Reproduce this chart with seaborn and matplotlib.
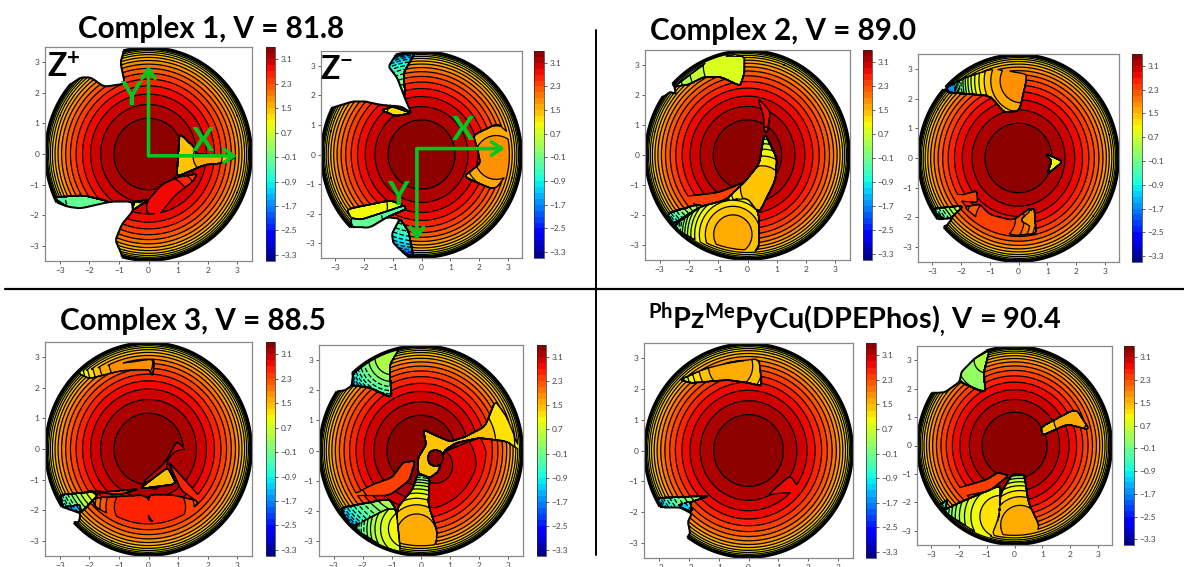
import numpy as np
import seaborn as sns
from matplotlib import pyplot as plt
from matplotlib.path import Path

# heights read from the rings of the undisturbed dome
DOME_RADIUS = [0, 1.17, 1.62, 1.96, 2.23, 2.45, 2.64, 2.80, 2.94, 3.06, 3.16, 3.25, 3.32, 3.38, 3.43, 3.46, 3.49, 3.50]
DOME_HEIGHT = [3.5, 3.3, 3.1, 2.9, 2.7, 2.5, 2.3, 2.1, 1.9, 1.7, 1.5, 1.3, 1.1, 0.9, 0.7, 0.5, 0.3, 0.1]
CBAR_TICKS = [3.1, 2.3, 1.5, 0.7, -0.1, -0.9, -1.7, -2.5, -3.3]
AXIS_TICKS = [-3, -2, -1, 0, 1, 2, 3]

# white = empty outline pieces, dish = (outline, centre x, centre y, drop, steepness)
WHITE_1P = [
    [(-0.85, 3.6), (-0.85, 3.3), (-0.95, 3.0), (-0.8, 2.3), (-1.5, 2.2), (-1.95, 2.5), (-2.3, 2.5), (-2.75, 2.2), (-3.6, 2.2), (-3.6, 3.6)],
    [(-3.3, -1.5), (-2.75, -1.72), (-2.3, -1.78), (-1.3, -1.56), (-0.56, -1.56), (-0.53, -1.84), (-0.6, -1.95), (-0.9, -2.3), (-1.12, -2.82), (-0.9, -3.3), (-0.9, -3.6), (-3.6, -3.6), (-3.6, -1.5)],
]
DISH_1P = [
    ([(-3.25, -1.42), (-2.2, -1.35), (-1.3, -1.56), (-2.3, -1.78), (-2.75, -1.72)], -2.0, -1.3, 3.6, 1.4),
    ([(1.05, 0.68), (1.57, 0.19), (1.6, 0.0), (3.0, -0.08), (2.5, -0.3), (1.9, -0.35), (0.95, -0.75), (1.0, -0.1)], 2.0, -0.1, 1.9, 1.2),
    ([(-0.5, -1.56), (0.0, -1.5), (-0.53, -1.84)], 0, 0, 2.2, 1.0),
    ([(-0.05, -1.55), (0.45, -1.0), (1.0, -0.75), (1.65, -0.65), (1.5, -0.9), (0.9, -1.35), (0.4, -1.95), (-0.05, -1.95)], 0.6, -1.5, 0.61, 1.5),
]

WHITE_1M = [
    [(-0.86, 3.6), (-0.86, 3.42), (-1.15, 2.97), (-0.85, 2.6), (-0.55, 1.84), (-0.35, 1.4), (-0.7, 1.62), (-1.44, 1.68), (-2.0, 1.8), (-2.37, 1.8), (-3.18, 1.56), (-3.6, 1.56), (-3.6, 3.6)],
    [(-2.43, -2.45), (-1.8, -2.47), (-1.2, -2.12), (-0.75, -2.17), (-1.03, -2.68), (-0.98, -3.0), (-0.6, -3.35), (-0.28, -3.6), (-3.6, -3.6), (-3.6, -2.45)],
]
DISH_1M = [
    ([(-1.15, 2.97), (-0.86, 3.42), (-0.22, 3.45), (-0.63, 2.75), (-0.55, 1.84), (-0.85, 2.6)], 0, 0, 2.4, 1.0),
    ([(-1.03, -2.68), (-0.75, -2.17), (-0.45, -2.6), (-0.28, -3.47), (-0.6, -3.35), (-0.98, -3.0)], 0, 0, 2.8, 1.0),
    ([(-2.6, -1.85), (-1.1, -1.55), (-0.6, -1.72), (-1.3, -1.95), (-2.1, -2.2), (-2.45, -2.15)], -2.3, -1.8, 2.41, 1.0),
    ([(-2.45, -2.15), (-2.1, -2.2), (-1.3, -1.95), (-0.6, -1.72), (-0.55, -1.85), (-1.2, -2.12), (-1.8, -2.47), (-2.43, -2.45)], -2.0, -2.3, 3.7, 0.9),
    ([(-1.0, 1.62), (-0.35, 1.4), (-0.9, 1.3), (-1.4, 1.5)], -0.6, 1.4, 2.3, 1.0),
    ([(1.8, 0.65), (2.65, 1.05), (3.05, 0.7), (3.2, -0.4), (2.55, -1.2), (1.46, -0.75), (2.05, -0.3), (1.95, 0.2)], 2.6, -0.1, 1.61, 1.5),
]

WHITE_2P = [
    [(-2.85, 1.95), (-2.65, 2.1), (-2.45, 2.05), (-2.5, 2.3), (-2.7, 2.5), (-3.6, 2.5), (-3.6, 1.95)],
]
DISH_2P = [
    ([(-2.5, 2.28), (-2.0, 2.65), (-1.1, 3.3), (-0.1, 3.3), (-0.1, 2.75), (-0.25, 2.3), (-0.9, 2.6), (-1.5, 2.6), (-2.0, 2.35)], -0.4, 3.0, 2.61, 1.0),
    ([(0.0, -1.45), (0.39, -1.94), (0.39, -3.2), (-0.7, -3.4), (-2.6, -2.4), (-1.6, -1.72), (-0.75, -1.5)], -0.5, -2.65, 1.81, 1.7),
    ([(0.58, 0.75), (1.0, -0.1), (0.96, -0.83), (0.39, -1.94), (0.0, -1.45), (-0.75, -1.5), (-0.1, -0.9), (0.4, -0.3)], 0.5, -1.1, 2.01, 1.5),
    ([(-2.75, -1.95), (-1.2, -1.5), (-0.75, -1.5), (-1.6, -1.72), (-2.55, -2.3)], 0, 0, 2.0, 1.0),
    ([(-2.3, -1.4), (-1.0, -1.25), (-0.1, -0.9), (-0.75, -1.5), (-1.6, -1.72)], -1.2, -1.1, 1.0, 1.0),
    ([(0.35, 1.9), (0.55, 1.3), (0.57, 0.8), (0.68, 0.75), (0.78, 1.45)], 0.5, 1.5, 0.7, 1.0),
    ([(-0.1, 2.75), (0.0, 2.4), (0.35, 1.9), (0.78, 1.45), (0.6, 2.2)], 0.3, 2.1, 0.4, 1.0),
]

WHITE_2M = [
    [(-2.95, 2.3), (-2.58, 2.32), (-2.35, 2.15), (-2.55, 2.4), (-2.9, 2.7), (-3.6, 2.7), (-3.6, 2.3)],
    [(-3.6, -2.1), (-2.6, -2.05), (-2.3, -2.02), (-2.52, -2.3), (-3.6, -2.5)],
]
DISH_2M = [
    ([(-2.55, 2.35), (-1.83, 2.72), (-0.9, 3.0), (0.27, 2.83), (0.27, 2.6), (0.03, 1.59), (-0.49, 1.53), (-1.0, 2.1), (-2.4, 2.2)], 0.1, 2.6, 1.61, 1.5),
    ([(0.95, 0.15), (1.55, -0.12), (1.0, -0.55), (1.15, -0.1)], 1.1, -0.1, 2.4, 1.0),
    ([(-2.7, -1.15), (-2.0, -1.25), (-1.45, -1.1), (-1.42, -1.5), (-2.0, -1.45)], -1.4, -1.2, 1.0, 1.0),
    ([(-2.95, -1.7), (-1.9, -1.6), (-2.35, -2.02), (-2.6, -2.05), (-2.95, -1.8)], 0, 0, 1.6, 1.0),
    ([(-1.9, -1.65), (-1.35, -1.55), (-1.0, -1.9), (-0.2, -2.1), (0.45, -1.65), (0.65, -2.55), (-0.2, -2.6), (-1.1, -2.3)], -0.8, -2.05, 1.01, 1.6),
    ([(0.05, -2.1), (0.55, -1.65), (0.6, -2.4)], 0.4, -2.0, 1.6, 1.0),
]

WHITE_3P = [
    [(-3.0, -1.85), (-2.9, -1.9), (-2.3, -2.1), (-2.35, -2.4), (-2.6, -2.4), (-3.6, -2.4), (-3.6, -1.85)],
]
DISH_3P = [
    ([(-2.4, 2.5), (-1.3, 2.75), (0.2, 2.95), (0.15, 2.4), (0.0, 2.6), (-0.3, 2.6), (-1.0, 2.55), (-2.0, 2.3)], -0.6, 2.85, 1.61, 1.5),
    ([(0.0, -1.5), (0.8, -1.5), (1.7, -1.7), (1.4, -2.1), (0.4, -2.4), (0.0, -2.35)], 0.6, -1.9, 0.81, 1.7),
    ([(0.0, -1.5), (-1.9, -1.6), (-1.8, -1.9), (-1.0, -2.3), (0.0, -2.35)], -0.5, -1.9, 0.81, 1.7),
    ([(-2.3, -1.35), (-1.4, -1.4), (-0.3, -1.3), (-1.0, -1.5)], -1.3, -1.1, 1.0, 1.0),
    ([(0.95, 0.25), (1.25, 0.0), (0.9, -0.9), (0.2, -1.35), (-0.2, -1.1), (0.55, -0.45)], 1.2, -0.6, 0.3, 1.0),
    ([(0.67, -0.43), (0.85, -0.6), (1.5, -1.3), (1.75, -1.6), (1.63, -1.7), (1.1, -1.35)], 1.0, -1.0, 0.8, 1.0),
    ([(0.65, -0.6), (0.95, -1.15), (-0.3, -1.3), (0.1, -1.0)], 0.3, -1.0, 2.0, 1.0),
    ([(-3.0, -1.5), (-1.9, -1.4), (-1.7, -1.5), (-2.3, -2.1), (-2.9, -1.9)], 0, 0, 1.7, 1.0),
    ([(-2.9, -1.9), (-2.3, -1.82), (-2.3, -2.1)], 0, 0, 3.0, 1.0),
]

WHITE_3M = [
    [(-2.95, 1.95), (-2.6, 2.0), (-2.38, 2.15), (-2.33, 2.55), (-2.6, 2.7), (-3.6, 2.7), (-3.6, 1.95)],
]
DISH_3M = [
    ([(-2.33, 2.58), (-1.47, 3.19), (-0.73, 3.4), (-1.07, 2.85), (-1.05, 2.3), (-1.01, 1.75), (-1.8, 2.1), (-2.38, 2.15)], -1.0, 3.1, 3.0, 2.0),
    ([(0.75, -0.05), (2.0, 0.42), (2.95, 0.3), (3.4, -0.1), (3.0, -1.8), (0.55, -2.65), (0.25, -1.8), (0.25, -1.0), (0.5, -0.55)], 0.5, -0.5, 0.3, 1.0),
    ([(0.07, 0.7), (0.5, 0.5), (1.0, 0.3), (1.5, 0.45), (2.2, 0.8), (2.55, 1.65), (2.95, 1.1), (3.4, 0.0), (2.95, 0.3), (2.0, 0.42), (1.2, 0.25), (0.8, 0.0), (0.6, -0.7), (0.3, -0.9), (-0.1, -0.75), (-0.1, -0.24), (0.18, 0.2)], 0.9, 0.2, 2.0, 0.7),
    ([(0.3, -0.9), (0.25, -1.8), (0.55, -2.65), (0.5, -3.4), (-0.7, -3.4), (-0.85, -1.95), (-0.3, -1.3), (-0.1, -0.75)], -0.15, -2.8, 1.81, 1.6),
    ([(-2.38, -2.55), (-1.2, -1.95), (-0.85, -1.95), (-0.7, -3.4), (-1.2, -3.25)], -0.5, -2.6, 2.41, 1.8),
    ([(-2.75, -1.9), (-1.1, -1.6), (-0.85, -1.95), (-1.2, -1.95), (-2.38, -2.55), (-2.65, -2.15)], 0, 0, 2.4, 1.0),
    ([(-0.6, -0.38), (-0.2, -0.35), (-0.4, -1.0), (-1.1, -1.5), (-2.4, -1.5), (-1.6, -1.1), (-1.0, -0.9)], -1.0, -0.7, 1.0, 1.0),
    ([(0.78, -0.25), (0.7, -0.05), (0.5, 0.03), (0.3, -0.05), (0.22, -0.25), (0.3, -0.45), (0.5, -0.53), (0.7, -0.45)], 0.5, -0.25, 0.1, 1.0),
]

WHITE_4P = [
    [(-3.1, -1.7), (-2.95, -1.85), (-2.3, -1.85), (-1.9, -2.05), (-2.03, -2.33), (-1.95, -2.7), (-2.2, -3.0), (-3.6, -3.0), (-3.6, -1.7)],
]
DISH_4P = [
    ([(-2.3, 2.3), (-1.5, 2.65), (-0.7, 2.85), (0.35, 3.0), (0.45, 2.1), (0.0, 2.2), (-0.7, 2.3), (-1.9, 2.2)], -0.6, 2.75, 1.81, 1.5),
    ([(-3.1, -1.55), (-2.0, -1.5), (-1.3, -1.47), (-2.0, -1.7), (-1.9, -2.0), (-2.3, -1.85), (-2.95, -1.85)], 0, 0, 2.2, 1.0),
    ([(-2.4, -1.8), (-1.95, -1.65), (-1.9, -2.0)], 0, 0, 3.3, 1.0),
    ([(0.65, -1.45), (1.4, -0.8), (1.75, -1.35), (0.95, -1.4)], 1.2, -1.2, 0.6, 1.5),
]

WHITE_4M = [
    [(-2.87, 1.85), (-2.5, 1.87), (-1.97, 2.24), (-1.9, 2.6), (-1.45, 3.05), (-0.89, 3.4), (-0.89, 3.6), (-3.6, 3.6), (-3.6, 1.85)],
]
DISH_4M = [
    ([(-1.97, 2.24), (-1.05, 1.85), (-1.1, 2.6), (-0.9, 3.35), (-1.45, 3.05), (-1.9, 2.6)], -1.0, 3.0, 3.1, 1.3),
    ([(0.95, 0.65), (2.2, 1.3), (2.7, 0.55), (1.9, 0.75), (1.0, 0.35)], 2.0, 0.9, 1.9, 1.0),
    ([(0.35, -1.0), (0.5, -2.0), (0.9, -2.85), (0.5, -3.45), (-0.9, -3.35), (-0.55, -2.5), (-0.5, -1.7), (-0.1, -1.02)], 0.2, -2.8, 1.81, 1.6),
    ([(-0.5, -1.4), (-0.55, -2.5), (-0.9, -3.35), (-2.6, -2.3), (-1.95, -2.0), (-1.0, -1.6)], -0.5, -2.5, 2.21, 1.5),
    ([(-2.55, -1.65), (-1.0, -1.2), (-0.6, -0.95), (-0.2, -1.05), (-0.9, -1.6), (-1.95, -1.8)], -1.2, -1.1, 1.0, 1.0),
    ([(-2.7, -2.1), (-2.4, -1.9), (-2.5, -2.25)], 0, 0, 2.0, 1.0),
]

# pixel boxes: left, right, top, bottom of map, then left, right of colour bar
BOX_1P = (45, 252, 47, 261, 266, 275)
BOX_1M = (321, 522, 51, 258, 534, 544)
BOX_2P = (645, 850, 50, 260, 863, 872)
BOX_2M = (918, 1119, 54, 262, 1132, 1142)
BOX_3P = (45, 252, 342, 556, 266, 275)
BOX_3M = (319, 523, 345, 556, 537, 546)
BOX_4P = (644, 853, 343, 558, 866, 876)
BOX_4M = (917, 1112, 346, 545, 1124, 1134)

WIDTH, HEIGHT = 1184, 567
GREEN = "#00c81e"


def add_box(fig, left, right, top, bottom):
    return fig.add_axes([left / WIDTH, 1 - bottom / HEIGHT, (right - left) / WIDTH, (bottom - top) / HEIGHT])


def rounded(outline, passes=2):
    # corner cutting, so the hand-read outlines do not look like straight pieces
    pts = np.asarray(outline, dtype=float)
    for _ in range(passes):
        following = np.roll(pts, -1, axis=0)
        pts = np.column_stack([0.88 * pts + 0.12 * following, 0.12 * pts + 0.88 * following]).reshape(-1, 2)
    return Path(pts)


def build_surface(white, dishes):
    xs = np.linspace(-3.5, 3.5, 561)
    grid_x, grid_y = np.meshgrid(xs, xs)
    points = np.column_stack([grid_x.ravel(), grid_y.ravel()])
    radius = np.hypot(grid_x, grid_y)
    base = np.interp(radius, DOME_RADIUS, DOME_HEIGHT)
    surface = base.copy()
    for outline, cx, cy, drop, steep in dishes:
        inside = rounded(outline).contains_points(points).reshape(grid_x.shape)
        dish = np.interp(np.hypot(grid_x - cx, grid_y - cy) * steep, DOME_RADIUS, DOME_HEIGHT) - drop
        surface[inside] = np.minimum(base, dish)[inside]
    cut = np.zeros_like(radius, dtype=bool)
    for outline in white:
        cut |= rounded(outline).contains_points(points).reshape(grid_x.shape)
    surface[cut | (radius > 3.47)] = np.nan
    return grid_x, grid_y, surface, cut, radius


def draw_map(fig, box, white, dishes, cmap, levels):
    ax = add_box(fig, *box[:4])
    cax = add_box(fig, box[4], box[5], box[2], box[3])
    grid_x, grid_y, surface, cut, radius = build_surface(white, dishes)
    filled = ax.contourf(grid_x, grid_y, surface, levels=levels, cmap=cmap)
    ax.contour(grid_x, grid_y, surface, levels=levels, colors="black", linewidths=0.9)
    cut_edge = np.ma.array(cut.astype(float), mask=radius > 3.49)
    ax.contour(grid_x, grid_y, cut_edge, levels=[0.5], colors="black", linewidths=1.4)
    ax.contour(grid_x, grid_y, np.ma.array(radius, mask=cut), levels=[3.47], colors="black", linewidths=2.6)
    ax.set_xlim(-3.5, 3.5)
    ax.set_ylim(-3.5, 3.5)
    ax.set_xticks(AXIS_TICKS)
    ax.set_yticks(AXIS_TICKS)
    ax.tick_params(labelsize=6, length=2, width=0.6, colors="#444444", pad=2)
    for spine in ax.spines.values():
        spine.set_color("#888888")
        spine.set_linewidth(0.9)
    bar = fig.colorbar(filled, cax=cax, ticks=CBAR_TICKS)
    bar.ax.tick_params(labelsize=6, length=2, width=0.6, colors="#444444", pad=2)
    bar.outline.set_linewidth(0.5)
    return ax


def draw_axes_cross(ax, origin, x_end, y_end, x_label, y_label):
    for end in (x_end, y_end):
        ax.annotate(
            "",
            xy=end,
            xytext=origin,
            arrowprops=dict(arrowstyle="->,head_length=0.6,head_width=0.4", color=GREEN, lw=2.6, shrinkA=0, shrinkB=0),
        )
    ax.text(*x_label, "X", color=GREEN, fontsize=24, fontweight="bold", ha="center", va="center")
    ax.text(*y_label, "Y", color=GREEN, fontsize=24, fontweight="bold", ha="center", va="center")


def main() -> None:
    sns.set_theme(style="ticks")
    plt.rcParams["font.family"] = ["Lato", "DejaVu Sans"]
    plt.rcParams["mathtext.fontset"] = "custom"
    plt.rcParams["mathtext.bf"] = "Lato:bold"
    plt.rcParams["mathtext.rm"] = "Lato:bold"
    plt.rcParams["axes.unicode_minus"] = True
    cmap = plt.get_cmap("jet")
    levels = np.linspace(-3.5, 3.5, 36)

    fig = plt.figure(figsize=(WIDTH / 100, HEIGHT / 100), dpi=100)
    ax_1p = draw_map(fig, BOX_1P, WHITE_1P, DISH_1P, cmap, levels)
    ax_1m = draw_map(fig, BOX_1M, WHITE_1M, DISH_1M, cmap, levels)
    draw_map(fig, BOX_2P, WHITE_2P, DISH_2P, cmap, levels)
    draw_map(fig, BOX_2M, WHITE_2M, DISH_2M, cmap, levels)
    draw_map(fig, BOX_3P, WHITE_3P, DISH_3P, cmap, levels)
    draw_map(fig, BOX_3M, WHITE_3M, DISH_3M, cmap, levels)
    draw_map(fig, BOX_4P, WHITE_4P, DISH_4P, cmap, levels)
    draw_map(fig, BOX_4M, WHITE_4M, DISH_4M, cmap, levels)

    draw_axes_cross(ax_1p, (0, -0.06), (3.0, -0.06), (0, 2.9), (1.85, 0.4), (-0.58, 1.9))
    draw_axes_cross(ax_1m, (-0.16, 0.2), (2.9, 0.2), (-0.16, -2.9), (1.46, 0.82), (-0.8, -1.38))
    ax_1p.text(-2.87, 2.8, "$\\mathbf{Z^{+}}$", fontsize=23, color="black", ha="center", va="center")
    ax_1m.text(-2.95, 2.85, "$\\mathbf{Z^{-}}$", fontsize=23, color="black", ha="center", va="center")

    title_style = dict(fontsize=21.3, fontweight="bold", color="black", va="center", ha="left")
    fig.text(78 / WIDTH, 1 - 29 / HEIGHT, "Complex 1, V = 81.8", **title_style)
    fig.text(650 / WIDTH, 1 - 31 / HEIGHT, "Complex 2, V = 89.0", **title_style)
    fig.text(60 / WIDTH, 1 - 321 / HEIGHT, "Complex 3, V = 88.5", **title_style)
    fig.text(
        648 / WIDTH,
        1 - 320 / HEIGHT,
        "$\\mathbf{^{Ph}Pz^{Me}PyCu(DPEPhos)_{,}}$ V = 90.4",
        fontsize=20.8,
        fontweight="bold",
        color="black",
        va="center",
        ha="left",
    )

    fig.add_artist(plt.Line2D([5 / WIDTH, 1], [1 - 289 / HEIGHT] * 2, color="black", lw=1.6))
    fig.add_artist(plt.Line2D([596 / WIDTH] * 2, [1 - 30 / HEIGHT, 1 - 555 / HEIGHT], color="black", lw=1.4))

    fig.savefig("out.png", dpi=100)
    plt.close(fig)


if __name__ == "__main__":
    main()
